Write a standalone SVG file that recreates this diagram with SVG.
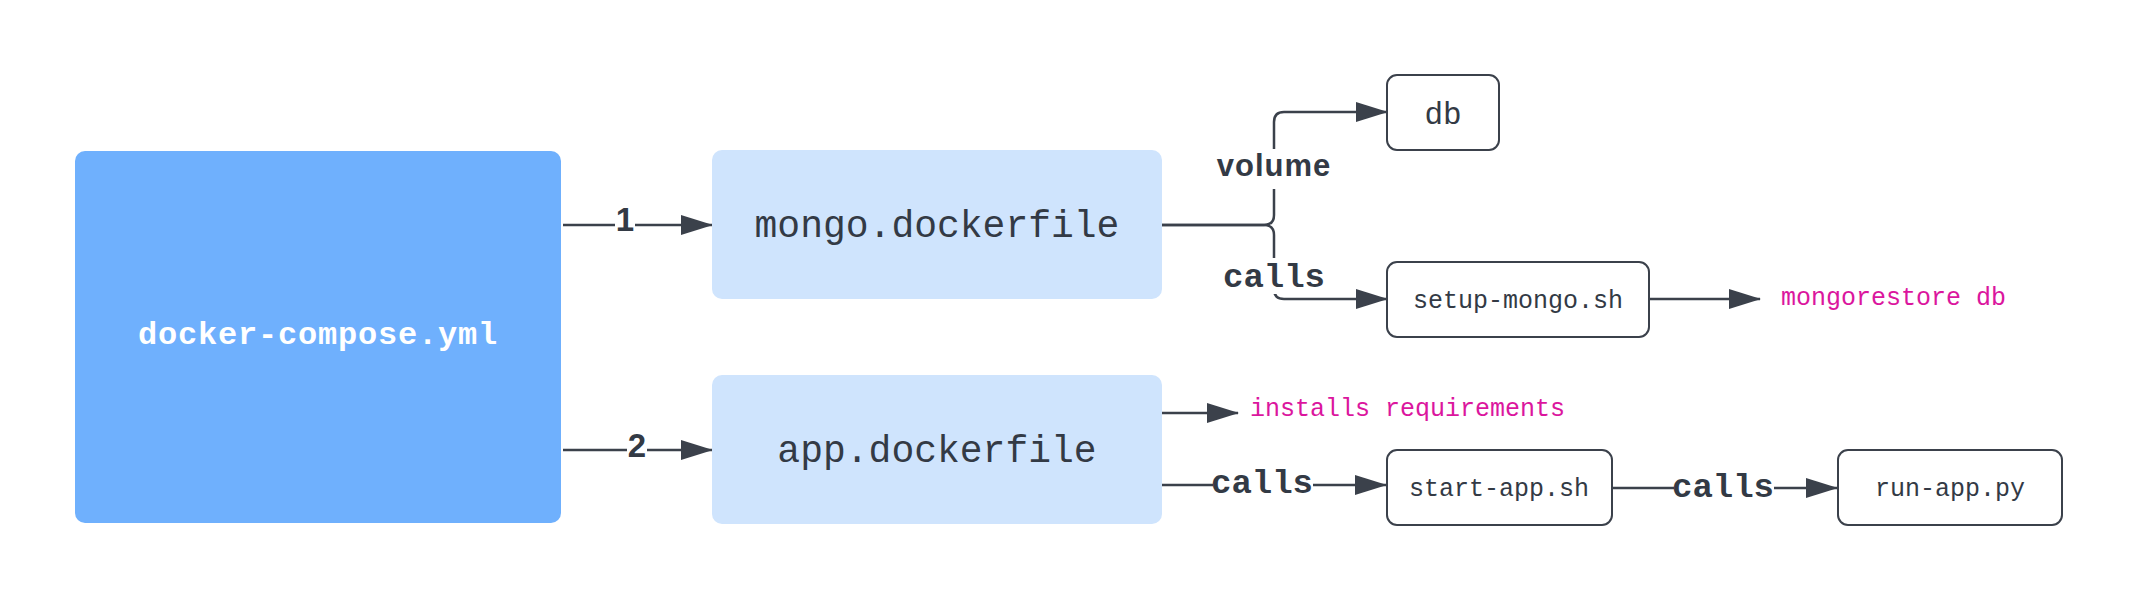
<svg xmlns="http://www.w3.org/2000/svg" width="2138" height="600" viewBox="0 0 2138 600">
  <style>
    .mono { font-family: "Liberation Mono", "DejaVu Sans Mono", monospace; }
    .big { font-size: 38px; fill: #333a45; text-anchor: middle; }
    .small { font-size: 25px; fill: #333a45; text-anchor: middle; }
    .mag { font-size: 25px; fill: #db169e; }
    .wbox { fill: #ffffff; stroke: #3b414b; stroke-width: 2; }
    .lbox { fill: #cfe4fd; }
    .conn { fill: none; stroke: #3b414b; stroke-width: 2.5; }
    .lbl-bg { fill: #ffffff; }
    .lbl-mono { font-family: "Liberation Mono", "DejaVu Sans Mono", monospace; font-weight: bold; font-size: 34px; fill: #333a45; text-anchor: middle; }
    .lbl-sans { font-family: "Liberation Sans", Arial, sans-serif; font-weight: bold; font-size: 31px; fill: #333a45; text-anchor: middle; }
    .num { font-size: 33px; }
  </style>
  <defs>
    <marker id="ah" markerUnits="userSpaceOnUse" markerWidth="32" markerHeight="20" viewBox="0 0 32 20" refX="31" refY="10" orient="auto">
      <path d="M0,0 L32,10 L0,20 z" fill="#3b414b"/>
    </marker>
  </defs>
  <rect width="2138" height="600" fill="#ffffff"/>

  <g id="connectors">
    <path class="conn" d="M563,225 H712" marker-end="url(#ah)"/>
    <path class="conn" d="M563,450 H712" marker-end="url(#ah)"/>
    <path class="conn" d="M1162,225 H1264 Q1274,225 1274,215 V122 Q1274,112 1284,112 H1387" marker-end="url(#ah)"/>
    <path class="conn" d="M1162,225 H1264 Q1274,225 1274,235 V289 Q1274,299 1284,299 H1387" marker-end="url(#ah)"/>
    <path class="conn" d="M1650,299 H1760" marker-end="url(#ah)"/>
    <path class="conn" d="M1162,413 H1238" marker-end="url(#ah)"/>
    <path class="conn" d="M1162,485 H1386" marker-end="url(#ah)"/>
    <path class="conn" d="M1612,488 H1837" marker-end="url(#ah)"/>

    <g id="labels">
      <rect class="lbl-bg" x="615" y="204" width="20" height="30"/>
      <text class="lbl-sans num" x="625" y="231">1</text>
      <rect class="lbl-bg" x="627" y="429" width="20" height="30"/>
      <text class="lbl-sans num" x="637" y="457">2</text>
      <rect class="lbl-bg" x="1210" y="149" width="128" height="40"/>
      <text class="lbl-sans" x="1274" y="176" letter-spacing="1">volume</text>
      <rect class="lbl-bg" x="1220" y="258" width="108" height="36"/>
      <text class="lbl-mono" x="1274" y="287">calls</text>
      <rect class="lbl-bg" x="1213" y="470" width="100" height="28"/>
      <text class="lbl-mono" x="1262" y="493">calls</text>
      <rect class="lbl-bg" x="1674" y="473" width="100" height="28"/>
      <text class="lbl-mono" x="1723" y="497">calls</text>
    </g>
  </g>

  <g id="docker-compose">
    <rect x="75" y="151" width="486" height="372" rx="10" fill="#6fb0fd"/>
    <text class="mono" x="318" y="344" font-size="32" font-weight="bold" fill="#ffffff" text-anchor="middle" letter-spacing="0.8">docker-compose.yml</text>
  </g>

  <g id="mongo-dockerfile">
    <rect class="lbox" x="712" y="150" width="450" height="149" rx="10"/>
    <text class="mono big" x="937" y="237">mongo.dockerfile</text>
  </g>

  <g id="app-dockerfile">
    <rect class="lbox" x="712" y="375" width="450" height="149" rx="10"/>
    <text class="mono big" x="937" y="462">app.dockerfile</text>
  </g>

  <g id="db">
    <rect class="wbox" x="1387" y="75" width="112" height="75" rx="10"/>
    <text class="mono" x="1443" y="124" font-size="31" fill="#333a45" text-anchor="middle">db</text>
  </g>

  <g id="setup-mongo">
    <rect class="wbox" x="1387" y="262" width="262" height="75" rx="10"/>
    <text class="mono small" x="1518" y="308">setup-mongo.sh</text>
  </g>

  <g id="mongorestore">
    <text class="mono mag" x="1781" y="305">mongorestore db</text>
  </g>

  <g id="installs">
    <text class="mono mag" x="1250" y="416">installs requirements</text>
  </g>

  <g id="start-app">
    <rect class="wbox" x="1387" y="450" width="225" height="75" rx="10"/>
    <text class="mono small" x="1499" y="496">start-app.sh</text>
  </g>

  <g id="run-app">
    <rect class="wbox" x="1838" y="450" width="224" height="75" rx="10"/>
    <text class="mono small" x="1950" y="496">run-app.py</text>
  </g>
</svg>
